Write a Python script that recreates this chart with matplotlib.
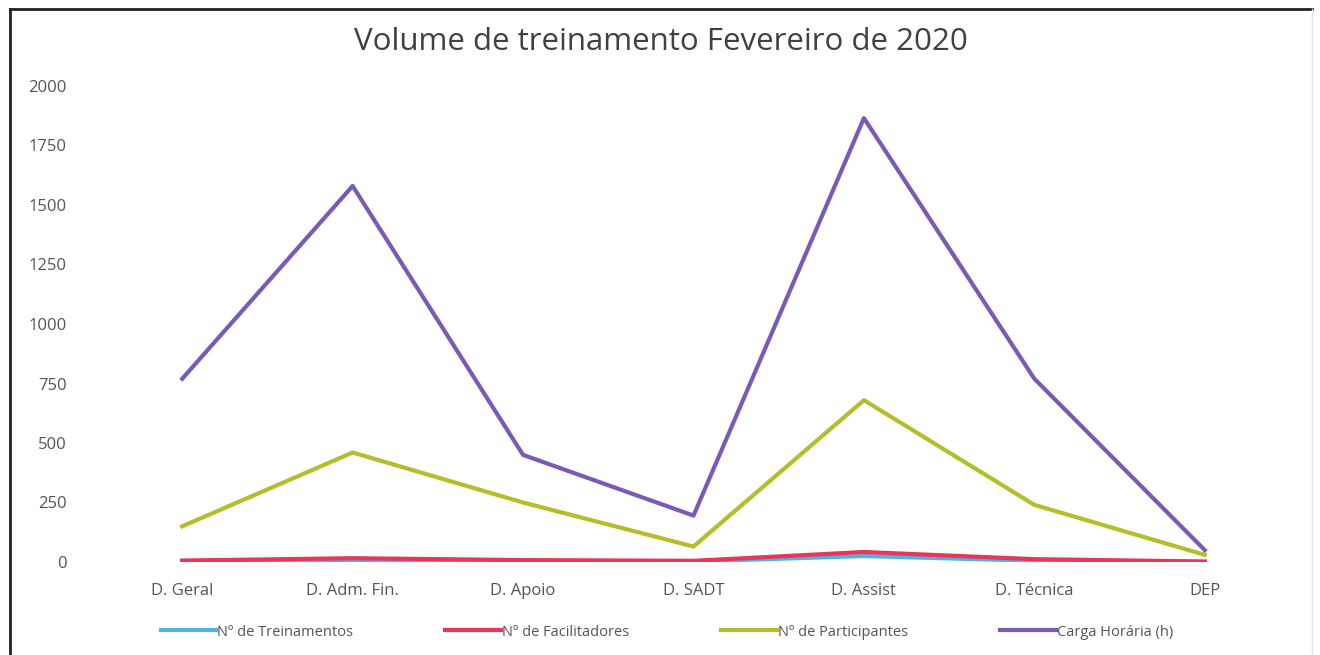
import matplotlib.pyplot as plt
from matplotlib.lines import Line2D

# Volume de treinamento por diretoria - Fevereiro de 2020
diretorias = ['D. Geral', 'D. Adm. Fin.', 'D. Apoio', 'D. SADT', 'D. Assist', 'D. Técnica', 'DEP']
treinamentos = [3, 8, 4, 2, 25, 5, 1]
facilitadores = [6, 16, 8, 5, 42, 12, 2]
participantes = [150, 460, 250, 65, 680, 240, 30]
carga_horaria = [770, 1580, 450, 195, 1865, 770, 50]

plt.rcParams['font.family'] = ['Open Sans', 'DejaVu Sans']

fig = plt.figure(figsize=(13.2, 6.55), dpi=100)
ax = fig.add_axes([97 / 1320, 1 - 562 / 655, (1290 - 97) / 1320, (562 - 86) / 655])

x = list(range(len(diretorias)))
ax.plot(x, treinamentos, color='#4FB3E8', lw=3, label='Nº de Treinamentos')
ax.plot(x, facilitadores, color='#E8365A', lw=3, label='Nº de Facilitadores')
ax.plot(x, participantes, color='#B5BD2A', lw=3, label='Nº de Participantes')
ax.plot(x, carga_horaria, color='#7A5AB5', lw=3, label='Carga Horária (h)')

ax.set_xlim(-0.5, 6.5)
ax.set_ylim(0, 2000)
ax.set_yticks(range(0, 2001, 250))
ax.set_xticks(x)
ax.set_xticklabels(diretorias)
ax.tick_params(length=0, labelsize=12, colors='#555555')
ax.tick_params(axis='x', pad=15)
ax.tick_params(axis='y', pad=22)
for s in ax.spines.values():
    s.set_visible(False)

fig.text(661 / 1320, 1 - 42 / 655, 'Volume de treinamento Fevereiro de 2020',
         ha='center', va='center', fontsize=22.5, color='#404040')

fig.legend(loc='center', bbox_to_anchor=(667 / 1320, 1 - 632 / 655), ncol=4, frameon=False,
           fontsize=10.5, handlelength=3.8, handletextpad=0.1, columnspacing=6.3,
           labelcolor='#555555')

# moldura do gráfico
fig.add_artist(Line2D([10 / 1320, 10 / 1320], [0, 1 - 9 / 655], color='#222222', lw=2))
fig.add_artist(Line2D([10 / 1320, 1312 / 1320], [1 - 9 / 655, 1 - 9 / 655], color='#222222', lw=2))
fig.add_artist(Line2D([1312 / 1320, 1312 / 1320], [0, 1 - 9 / 655], color='#e6e6e6', lw=1))

fig.savefig('out.png', dpi=100)
